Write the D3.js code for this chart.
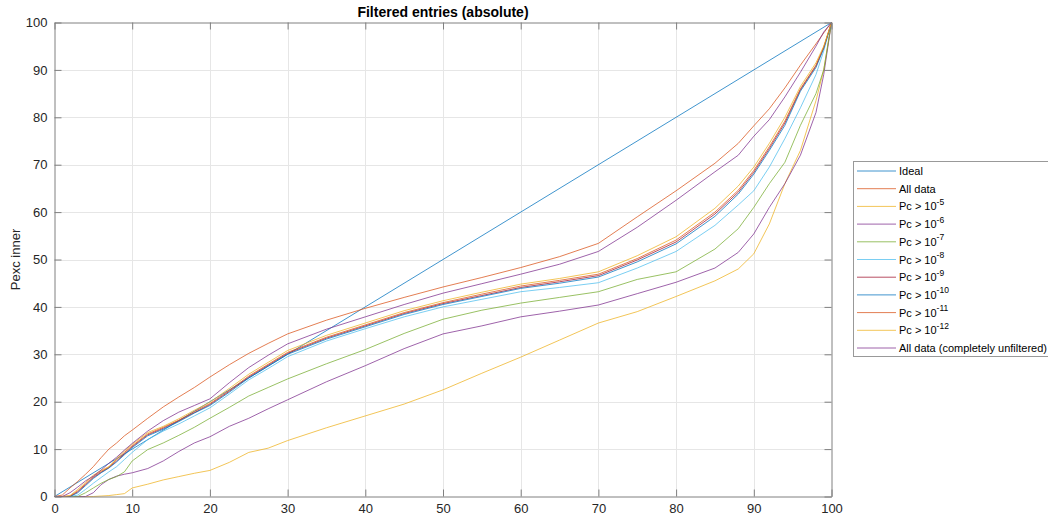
<!DOCTYPE html>
<html>
<head>
<meta charset="utf-8">
<script src="https://cdn.jsdelivr.net/npm/d3@7"></script>
<style>
body { margin: 0; background: #fff; }
text { font-family: "Liberation Sans", Arial, sans-serif; }
</style>
</head>
<body>
<script>
// x positions shared by every series (percent)
var xKnots = [0,1,2,3,4,5,6,7,8,9,10,12,14,16,18,20,22.5,25,27.5,30,35,40,45,50,55,60,65,70,75,80,85,88,90,92,94,96,98,99,100];

var ideal = [0,100];
var idealX = [0,100];

var allData    = [0,0.3,1.8,3.2,4.7,6.3,8.2,10,11.3,12.8,14,16.5,18.9,21,23,25.2,27.8,30.2,32.3,34.3,37.2,39.7,42,44.2,46.2,48.3,50.6,53.4,59,64.5,70.3,74.5,78.2,81.8,86.2,91,95.5,97.8,100];
var pc5        = [0,0,0,0,0,0,0.1,0.2,0.4,0.6,1.8,2.6,3.5,4.2,4.9,5.5,7.2,9.3,10.2,11.8,14.5,17,19.5,22.5,26,29.4,33,36.6,39,42.2,45.5,48,51.2,57.5,66,73,83.5,90,100];
var pc6        = [0,0,0,0,0,0.8,2.5,3.6,4.3,4.7,5,5.9,7.5,9.5,11.3,12.6,14.8,16.5,18.5,20.4,24.2,27.6,31.2,34.3,36,37.9,39.1,40.4,42.8,45.2,48.2,51.5,55.4,61,66,72,81,89,100];
var pc7        = [0,0,0,0,0.8,1.8,2.8,3.6,4.2,5.2,7.5,9.9,11.3,12.9,14.6,16.5,18.8,21.2,23,24.8,28,31,34.4,37.4,39.3,40.8,42,43.2,45.8,47.4,52.2,56.5,61,66,70.5,78.3,85,90,100];
var pc8        = [0,0,0,0.3,1.5,2.8,4,5.2,6.3,7.8,9.3,12,13.8,15.3,17,18.7,21.6,24.6,27,29.5,32.8,35.4,37.9,40,41.6,43.2,44.1,45.1,48.2,51.7,57.2,61.5,64.5,69.5,75.5,82,89,94,100];
var pc9        = [0,0,0,1,2.5,4,5.1,6.1,7.5,9,10.5,13,14.4,16,17.7,19.4,22.2,25.2,27.7,30.2,33.4,36,38.6,40.7,42.4,44.1,45.3,46.6,49.9,53.7,59.6,64.2,68.4,73.4,78.8,85.8,90.8,94.7,100];
var pc10       = [0,0,0,0.8,2.3,3.8,5,6,7.3,8.8,10.3,12.8,14.2,15.8,17.6,19.2,22,25,27.5,30,33.2,35.8,38.4,40.5,42.2,43.9,45,46.3,49.5,53.3,59.1,63.8,68,73,78.3,85.5,90.5,94.5,100];
var pc11       = [0,0,0.1,1.2,2.7,4.2,5.3,6.2,7.8,9.3,10.7,13.2,14.6,16.1,17.9,19.6,22.4,25.4,27.9,30.4,33.6,36.2,38.8,40.9,42.7,44.4,45.6,46.9,50.2,54.1,60,64.6,68.8,73.8,79.2,86,91,94.8,100];
var pc12       = [0,0,0.2,1.5,3,4.5,5.5,6.3,8,9.6,11,13.5,14.8,16.4,18.2,19.9,22.8,25.8,28.3,30.8,34,36.6,39.2,41.3,43.1,44.8,46,47.4,50.8,54.8,60.8,65.5,69.5,74.5,80,86.5,91.5,95,100];
var unfiltered = [0,0,0.8,2,3.3,4.3,5.6,7,8.3,9.8,11.2,13.8,16,17.8,19.2,20.6,24,27.2,29.8,32.2,35.3,37.9,40.5,42.9,44.9,46.9,49,51.7,56.8,62.5,68.5,72,76,79.5,84.3,89.5,95,98,100];

var names = ["Ideal", "All data", "Pc > 10", "Pc > 10", "Pc > 10", "Pc > 10", "Pc > 10", "Pc > 10", "Pc > 10", "Pc > 10", "All data (completely unfiltered)"];
var exponents = [null, null, "-5", "-6", "-7", "-8", "-9", "-10", "-11", "-12", null];
var colors = ["#0072BD", "#D95319", "#EDB120", "#7E2F8E", "#77AC30", "#4DBEEE", "#A2142F", "#0072BD", "#D95319", "#EDB120", "#7E2F8E"];
var seriesY = [ideal, allData, pc5, pc6, pc7, pc8, pc9, pc10, pc11, pc12, unfiltered];

var xTicks = [0,10,20,30,40,50,60,70,80,90,100];
var yTicks = [0,10,20,30,40,50,60,70,80,90,100];

var W = 1048, H = 519;
var plot = {left: 54.5, right: 831.5, top: 22.5, bottom: 496.5};

var svg = d3.select("body").append("svg")
    .attr("width", W)
    .attr("height", H);

var x = d3.scaleLinear().domain([0, 100]).range([plot.left, plot.right]);
var y = d3.scaleLinear().domain([0, 100]).range([plot.bottom, plot.top]);

// grid
svg.append("g").selectAll("line.gx")
    .data(xTicks.slice(1, -1))
    .enter().append("line")
    .attr("x1", function(d) { return Math.round(x(d)) + 0.5; })
    .attr("x2", function(d) { return Math.round(x(d)) + 0.5; })
    .attr("y1", plot.top).attr("y2", plot.bottom)
    .attr("stroke", "#e6e6e6");
svg.append("g").selectAll("line.gy")
    .data(yTicks.slice(1, -1))
    .enter().append("line")
    .attr("y1", function(d) { return Math.round(y(d)) + 0.5; })
    .attr("y2", function(d) { return Math.round(y(d)) + 0.5; })
    .attr("x1", plot.left).attr("x2", plot.right)
    .attr("stroke", "#e6e6e6");

// series
var line = d3.line()
    .x(function(d) { return x(d[0]); })
    .y(function(d) { return y(d[1]); });

var lines = svg.append("g").attr("class", "series");
seriesY.forEach(function(vals, i) {
    var xs = (i === 0) ? idealX : xKnots;
    var pts = vals.map(function(v, j) { return [xs[j], v]; });
    lines.append("path")
        .datum(pts)
        .attr("d", line)
        .attr("fill", "none")
        .attr("stroke", colors[i])
        .attr("stroke-opacity", 0.75)
        .attr("stroke-width", 1);
});

// axes
var axisColor = "#808080";
var tickColor = "#262626";

var gx = svg.append("g")
    .attr("transform", "translate(0," + plot.bottom + ")")
    .call(d3.axisBottom(x).tickValues(xTicks).tickSizeInner(-7).tickSizeOuter(0).tickPadding(7));
var gxTop = svg.append("g")
    .attr("transform", "translate(0," + plot.top + ")")
    .call(d3.axisTop(x).tickValues(xTicks).tickSizeInner(-7).tickSizeOuter(0).tickFormat(""));
var gy = svg.append("g")
    .attr("transform", "translate(" + plot.left + ",0)")
    .call(d3.axisLeft(y).tickValues(yTicks).tickSizeInner(-7).tickSizeOuter(0).tickPadding(7));
var gyRight = svg.append("g")
    .attr("transform", "translate(" + plot.right + ",0)")
    .call(d3.axisRight(y).tickValues(yTicks).tickSizeInner(-7).tickSizeOuter(0).tickFormat(""));

[gx, gxTop, gy, gyRight].forEach(function(g) {
    g.select(".domain").attr("stroke", axisColor);
    g.selectAll(".tick line").attr("stroke", axisColor);
    g.selectAll(".tick text")
        .attr("fill", tickColor)
        .style("font-size", "13px")
        .style("font-family", "'Liberation Sans', Arial, sans-serif");
});

// title + y label
svg.append("text")
    .attr("x", (plot.left + plot.right) / 2)
    .attr("y", 17)
    .attr("text-anchor", "middle")
    .style("font-size", "14px")
    .style("font-weight", "bold")
    .attr("fill", "#000")
    .text("Filtered entries (absolute)");

svg.append("text")
    .attr("transform", "translate(20," + ((plot.top + plot.bottom) / 2) + ") rotate(-90)")
    .attr("text-anchor", "middle")
    .style("font-size", "13px")
    .attr("fill", tickColor)
    .text("Pexc inner");

// legend
var legend = svg.append("g").attr("class", "legend");
legend.append("rect")
    .attr("x", 853.5).attr("y", 161.5)
    .attr("width", 260).attr("height", 195)
    .attr("fill", "#fff")
    .attr("stroke", "#999");

var rowY = d3.scaleLinear().domain([0, names.length - 1]).range([171, 348]);

names.forEach(function(name, i) {
    var cy = rowY(i);
    legend.append("line")
        .attr("x1", 857).attr("x2", 896)
        .attr("y1", cy).attr("y2", cy)
        .attr("stroke", colors[i])
        .attr("stroke-opacity", 0.75);
    var t = legend.append("text")
        .attr("x", 899)
        .attr("y", cy + 4)
        .style("font-size", "11px")
        .attr("fill", "#000")
        .text(name);
    if (exponents[i]) {
        t.append("tspan")
            .attr("dy", -5.5)
            .style("font-size", "8.5px")
            .text(exponents[i]);
    }
});
</script>
</body>
</html>
